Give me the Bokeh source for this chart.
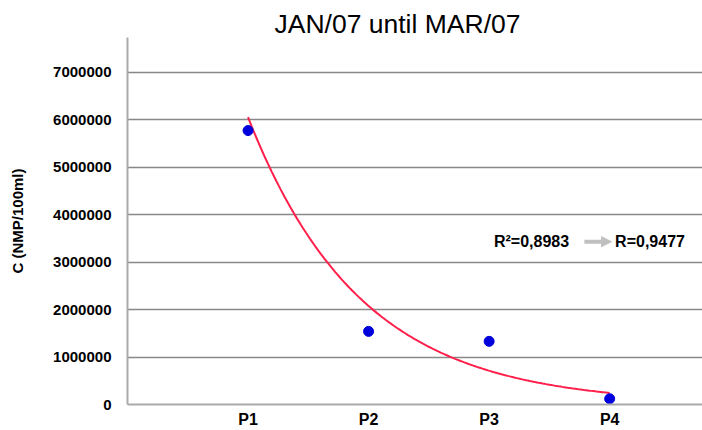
import numpy as np
from bokeh.plotting import figure
from bokeh.models import Range1d, FixedTicker, Label, Arrow, NormalHead
from bokeh.embed import file_html
from bokeh.resources import INLINE

# ---- data ----
categories = ["P1", "P2", "P3", "P4"]
concentration = [5770000, 1540000, 1330000, 120000]
y_ticks = [0, 1000000, 2000000, 3000000, 4000000, 5000000, 6000000, 7000000]
# exponential trendline y = a * exp(b * x)
trend_a = 1.764e7
trend_b = -1.07
title_text = "JAN/07 until MAR/07"
y_label = "C (NMP/100ml)"
r2_text = "R²=0,8983"
r_text = "R=0,9477"

FONT = "Liberation Sans"

x_pos = list(range(1, len(categories) + 1))

p = figure(width=702, height=430, output_backend="svg", toolbar_location=None,
           x_range=Range1d(0, 4.77), y_range=Range1d(0, 7.73e6),
           min_border_left=127, min_border_right=0, min_border_top=37,
           min_border_bottom=25)
p.outline_line_color = None
p.background_fill_color = "white"
p.border_fill_color = "white"

# title
p.title.text = title_text
p.title.text_font = FONT
p.title.text_font_size = "26.5px"
p.title.text_font_style = "normal"
p.title.text_color = "#000000"
p.title.align = "left"
p.title.offset = 147
try:
    p.title.standoff = -3
except Exception:
    p.title.standoff = 0

# axes
p.xaxis.ticker = FixedTicker(ticks=x_pos)
p.xaxis.major_label_overrides = {x: c for x, c in zip(x_pos, categories)}
p.yaxis.ticker = FixedTicker(ticks=y_ticks)
p.yaxis.major_label_overrides = {t: str(t) for t in y_ticks}
for ax in (p.xaxis[0], p.yaxis[0]):
    ax.major_tick_line_color = None
    ax.minor_tick_line_color = None
    ax.major_tick_out = 0
    ax.major_tick_in = 0
    ax.minor_tick_out = 0
    ax.minor_tick_in = 0
    ax.axis_line_color = "#aaaaaa"
    ax.axis_line_width = 2
    ax.major_label_text_font = FONT
    ax.major_label_text_font_size = "15px"
    ax.major_label_text_font_style = "bold"
    ax.major_label_text_color = "#000000"
p.xaxis.major_label_text_font_size = "16px"
p.xaxis.major_label_standoff = 6
p.yaxis.major_label_standoff = 16
p.yaxis.axis_label = y_label
p.yaxis.axis_label_text_font = FONT
p.yaxis.axis_label_text_font_size = "15px"
p.yaxis.axis_label_text_font_style = "bold"
p.yaxis.axis_label_text_color = "#000000"
p.yaxis.axis_label_standoff = 24

p.xgrid.grid_line_color = None
p.ygrid.grid_line_color = "#888888"
p.ygrid.grid_line_width = 1.5

# trendline
tx = np.linspace(x_pos[0], x_pos[-1], 200)
ty = trend_a * np.exp(trend_b * tx)
p.line(tx, ty, line_color="#ff1f4b", line_width=2)

# data points
p.scatter(x_pos, concentration, size=10, fill_color="#0000dd", line_color="#0000dd")

# annotation
ann_y = 3.43e6
p.add_layout(Label(x=3.04, y=ann_y, text=r2_text, text_font=FONT, text_font_size="16px",
                   text_font_style="bold", text_baseline="middle", text_align="left",
                   text_color="#000000"))
p.add_layout(Arrow(x_start=3.79, y_start=ann_y, x_end=4.015, y_end=ann_y,
                   line_color="#c0c0c0", line_width=4,
                   end=NormalHead(size=10, fill_color="#c0c0c0", line_color="#c0c0c0")))
p.add_layout(Label(x=4.045, y=ann_y, text=r_text, text_font=FONT, text_font_size="16px",
                   text_font_style="bold", text_baseline="middle", text_align="left",
                   text_color="#000000"))

open("out.html", "w").write(file_html(p, INLINE))
